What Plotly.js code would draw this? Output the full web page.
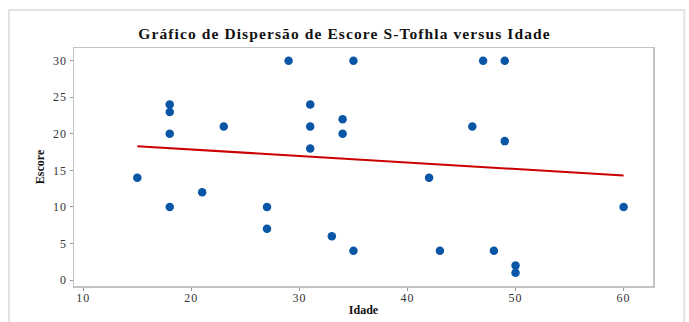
<!DOCTYPE html>
<html>
<head>
<meta charset="utf-8">
<script src="https://cdn.plot.ly/plotly-3.0.1.min.js"></script>
<style>
html,body{margin:0;padding:0;background:#fff;}
#chart{width:689px;height:322px;}
#chart .gtitle{letter-spacing:1.1px;}
#chart .xtick text, #chart .ytick text{letter-spacing:1px;}
</style>
</head>
<body>
<div id="chart"></div>
<script>
// Data
const idade = [15, 18, 18, 18, 18, 21, 23, 27, 27, 29, 31, 31, 31, 33, 34, 34, 35, 35, 42, 43, 46, 47, 48, 49, 49, 50, 50, 60];
const escore = [14, 24, 23, 20, 10, 12, 21, 10, 7, 30, 24, 21, 18, 6, 22, 20, 30, 4, 14, 4, 21, 30, 4, 30, 19, 2, 1, 10];
// Fitted regression line endpoints
const fitX = [15, 60];
const fitY = [18.3, 14.3];
const xTicks = [10, 20, 30, 40, 50, 60];
const yTicks = [0, 5, 10, 15, 20, 25, 30];

const serif = "Liberation Serif, Times New Roman, serif";

const traces = [
  {
    x: idade, y: escore, type: 'scatter', mode: 'markers',
    marker: {color: '#0a56a6', size: 8.5, symbol: 'circle'},
    hoverinfo: 'x+y', showlegend: false
  },
  {
    x: fitX, y: fitY, type: 'scatter', mode: 'lines',
    line: {color: '#cc0000', width: 2},
    hoverinfo: 'skip', showlegend: false
  }
];

const layout = {
  width: 689, height: 322,
  margin: {l: 74, r: 36.3, t: 48, b: 36.3},
  paper_bgcolor: '#ffffff', plot_bgcolor: '#ffffff',
  title: {
    text: '<b>Gráfico de Dispersão de Escore S-Tofhla versus Idade</b>',
    font: {family: serif, size: 15.5, color: '#111'},
    x: 0.5, xanchor: 'center', y: 0.897, yanchor: 'middle'
  },
  xaxis: {
    range: [9.14, 62.72],
    tickvals: xTicks, ticktext: xTicks.map(String),
    showgrid: false, zeroline: false,
    showline: true, mirror: true, linecolor: '#c4c4c4', linewidth: 1.5,
    ticks: 'outside', ticklen: 3, tickcolor: '#999', tickwidth: 1,
    ticklabelstandoff: -3,
    tickfont: {family: serif, size: 12, color: '#333'},
    title: {text: '<b>Idade</b>', font: {family: serif, size: 12, color: '#111'}, standoff: 1}
  },
  yaxis: {
    range: [-0.82, 31.74],
    tickvals: yTicks, ticktext: yTicks.map(String),
    showgrid: false, zeroline: false,
    showline: true, mirror: true, linecolor: '#c4c4c4', linewidth: 1.5,
    ticks: 'outside', ticklen: 3, tickcolor: '#999', tickwidth: 1,
    tickfont: {family: serif, size: 12, color: '#333'},
    title: {text: '<b>Escore</b>', font: {family: serif, size: 12, color: '#111'}, standoff: 8}
  },
  shapes: [
    {
      type: 'rect', xref: 'paper', yref: 'paper',
      x0: -0.1123, x1: 1.0541, y0: -0.2, y1: 1.160,
      line: {color: '#e2e2e2', width: 2}, fillcolor: 'rgba(0,0,0,0)', layer: 'below'
    }
  ]
};

Plotly.newPlot('chart', traces, layout, {displayModeBar: false, staticPlot: true});
</script>
</body>
</html>
